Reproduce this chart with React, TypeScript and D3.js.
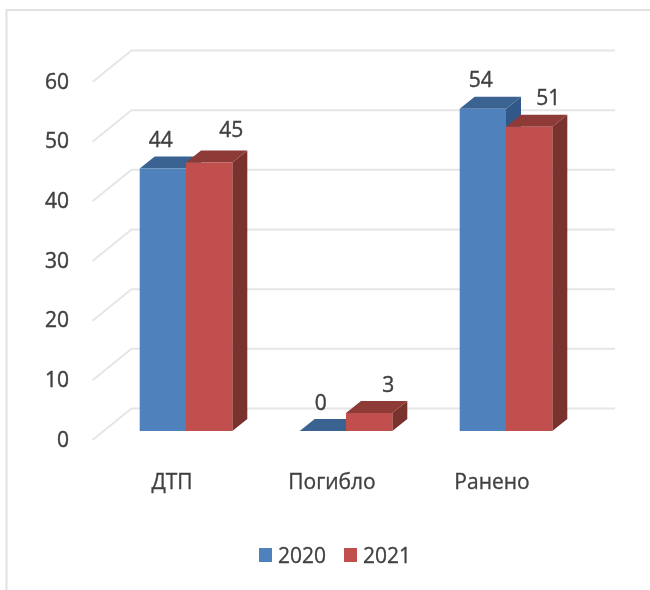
import { useEffect, useRef } from 'react'
import { select, scaleLinear, scaleBand, axisLeft, path } from 'd3'

const categories = ['ДТП', 'Погибло', 'Ранено']
const seriesNames = ['2020', '2021']
const values2020 = [44, 0, 54]
const values2021 = [45, 3, 51]
const yTicks = [0, 10, 20, 30, 40, 50, 60]

const W = 650
const H = 590
const FONT = '"Open Sans", sans-serif'
const TEXT = '#404040'

// one dark/light set per series: front, top, side
const colors = [
  { front: '#4f81bd', top: '#3a6391', side: '#31598a' },
  { front: '#c0504d', top: '#8e3b39', side: '#7a302e' },
]

// wall depth and bar depth of the fake 3d
const wallDx = 39
const wallDy = -31.5
const barDx = 15
const barDy = -12

export default function App() {
  const svgRef = useRef<SVGSVGElement | null>(null)

  useEffect(() => {
    const svg = select(svgRef.current)
    svg.selectAll('*').remove()

    const defs = svg.append('defs')
    defs
      .append('filter')
      .attr('id', 'soft')
      .append('feGaussianBlur')
      .attr('stdDeviation', 0.55)

    const root = svg.append('g').attr('filter', 'url(#soft)')

    // chart frame, only top and left show in the crop
    root
      .append('path')
      .attr('d', `M6.5,${H}V10H${W}`)
      .attr('fill', 'none')
      .attr('stroke', '#e2e2e2')
      .attr('stroke-width', 2)

    // y on the bar plane, bars stand at 431
    const y = scaleLinear().domain([0, 60]).range([431, 73])
    const x0 = scaleBand().domain(categories).range([106, 586]).paddingInner(0).paddingOuter(0)
    const barW = 46.3

    // y axis on the front edge of the floor
    const frontY = scaleLinear().domain([0, 60]).range([440, 82])
    const backY = (v: number) => frontY(v) + wallDy
    const axis = axisLeft(frontY)
      .tickValues(yTicks)
      .tickSize(0)
      .tickPadding(0)
    const axisG = root
      .append('g')
      .attr('transform', 'translate(69,0)')
      .call(axis as any)
    axisG.select('.domain').remove()
    axisG
      .selectAll('text')
      .attr('font-family', FONT)
      .attr('font-size', 21)
      .attr('fill', TEXT)
      .attr('stroke', TEXT)
      .attr('stroke-width', 0.4)
      .attr('dy', '0.3em')

    // gridlines: diagonal on the side wall, then flat on the back wall
    const floorX = 92.5
    root
      .append('g')
      .selectAll('path')
      .data(yTicks)
      .join('path')
      .attr('d', (d) => {
        const p = path()
        p.moveTo(floorX, frontY(d))
        p.lineTo(floorX + wallDx, backY(d))
        p.lineTo(615, backY(d))
        return p.toString()
      })
      .attr('fill', 'none')
      .attr('stroke', '#e6e6e6')
      .attr('stroke-width', 2)

    const series = [values2020, values2021]

    const box = (left: number, top: number) => {
      const right = left + barW
      return {
        front: `M${left},${top}H${right}V${y(0)}H${left}Z`,
        top: `M${left},${top}L${left + barDx},${top + barDy}H${right + barDx}L${right},${top}Z`,
        side: `M${right},${top}L${right + barDx},${top + barDy}V${y(0) + barDy}L${right},${y(0)}Z`,
      }
    }

    categories.forEach((cat, i) => {
      const center = (x0(cat) as number) + x0.bandwidth() / 2
      const g = root.append('g')
      series.forEach((vals, s) => {
        const left = center - barW + s * barW
        const top = y(vals[i])
        const b = box(left, top)
        // a zero bar only leaves its flat top
        if (vals[i] > 0) {
          g.append('path').attr('d', b.side).attr('fill', colors[s].side)
        }
        g.append('path').attr('d', b.top).attr('fill', colors[s].top)
        if (vals[i] > 0) {
          g.append('path').attr('d', b.front).attr('fill', colors[s].front)
        }
      })
      series.forEach((vals, s) => {
        const barMid = center - barW + s * barW + barW / 2
        // the 45 label sits a bit further off in the original
        const nudge = s === 1 && i === 0 ? [3, -4] : [0, 0]
        g.append('text')
          .attr('x', barMid + (s === 0 ? -2 : 19) + nudge[0])
          .attr('y', y(vals[i]) - 29 + nudge[1])
          .attr('dy', '0.36em')
          .attr('text-anchor', 'middle')
          .attr('font-family', FONT)
          .attr('font-size', 21)
          .attr('fill', TEXT)
          .attr('stroke', TEXT)
          .attr('stroke-width', 0.4)
          .text(vals[i])
      })
      root
        .append('text')
        .attr('x', center - 14)
        .attr('y', 481)
        .attr('dy', '0.36em')
        .attr('text-anchor', 'middle')
        .attr('font-family', FONT)
        .attr('font-size', 21)
        .attr('fill', TEXT)
        .attr('stroke', TEXT)
        .attr('stroke-width', 0.3)
        .text(cat)
    })

    // legend
    const legendX = scaleBand().domain(seriesNames).range([259, 429])
    const legend = root
      .append('g')
      .selectAll('g')
      .data(seriesNames)
      .join('g')
      .attr('transform', (d) => `translate(${legendX(d)},548)`)
    legend
      .append('rect')
      .attr('width', 13)
      .attr('height', 14)
      .attr('fill', (_, i) => colors[i].front)
    legend
      .append('text')
      .attr('x', 19)
      .attr('y', 7)
      .attr('dy', '0.36em')
      .attr('font-family', FONT)
      .attr('font-size', 21)
      .attr('fill', TEXT)
      .attr('stroke', TEXT)
      .attr('stroke-width', 0.3)
      .text((d) => d)
  }, [])

  return (
    <svg
      ref={svgRef}
      width={W}
      height={H}
      style={{ position: 'fixed', left: 0, top: 0, background: '#fff' }}
    />
  )
}
